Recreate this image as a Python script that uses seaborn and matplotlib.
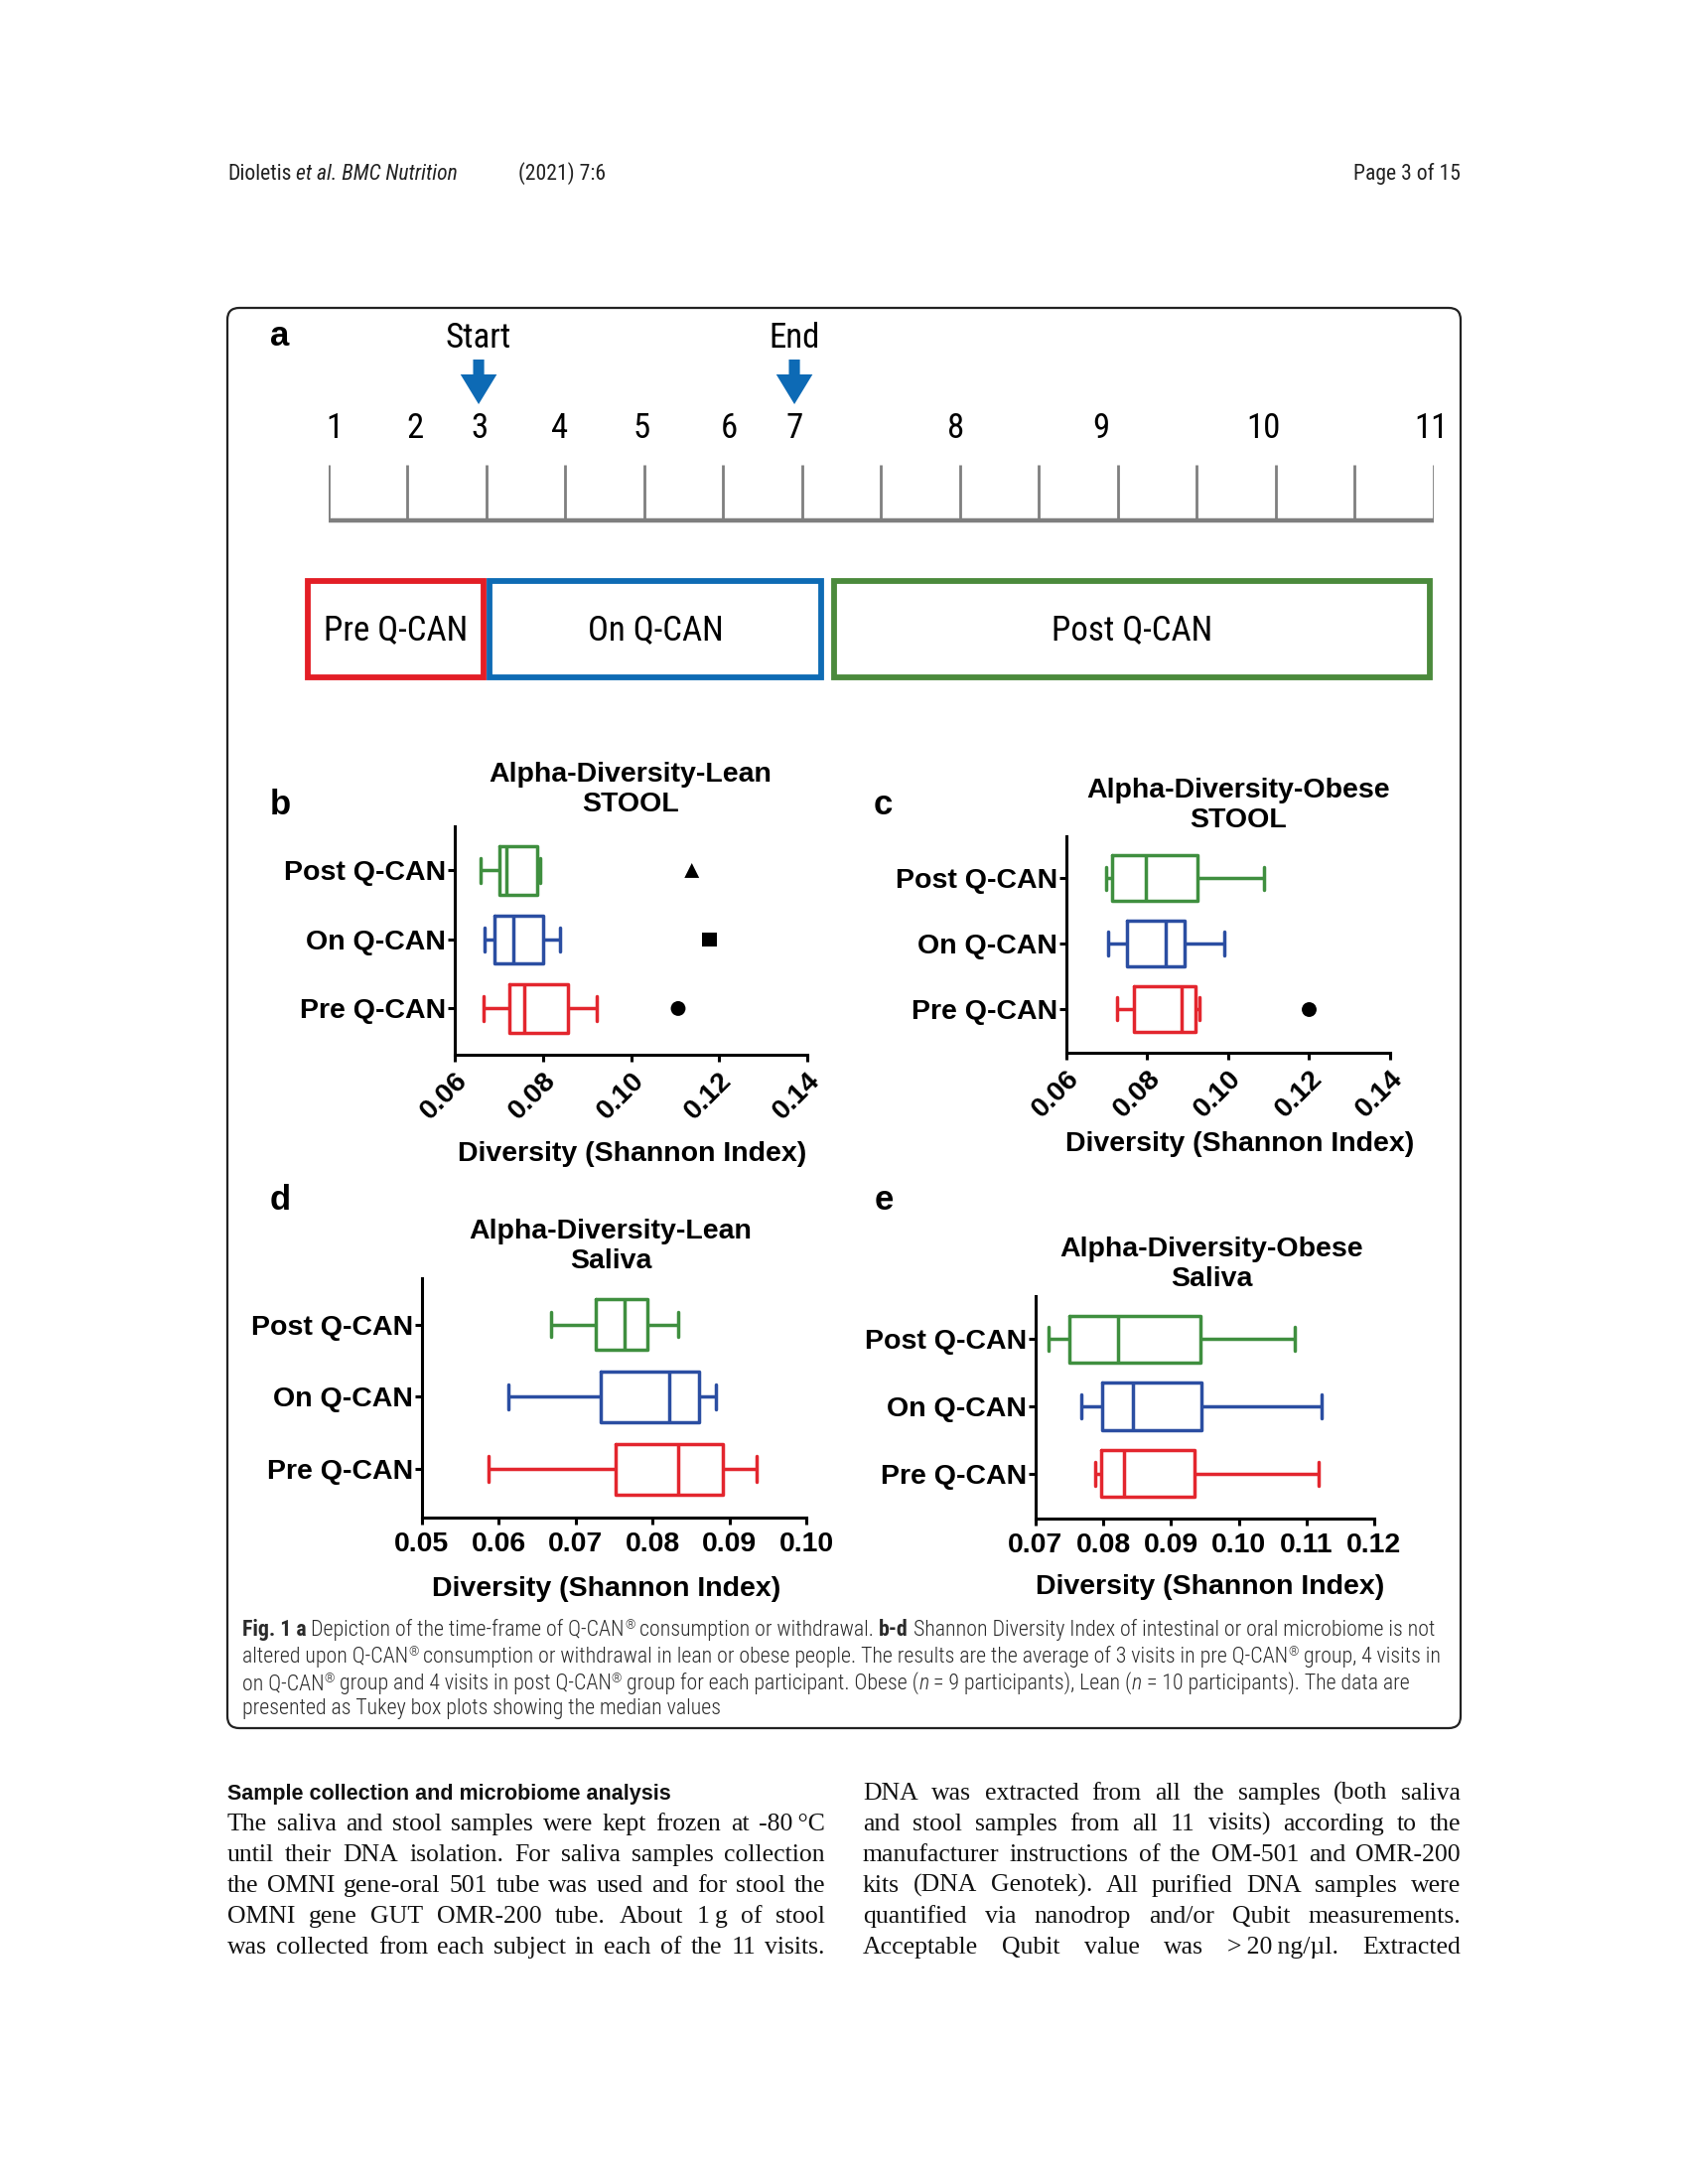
import warnings
warnings.simplefilter(action='ignore', category=FutureWarning)
warnings.simplefilter(action='ignore', category=UserWarning)

import matplotlib
matplotlib.use('Agg')
import matplotlib.pyplot as plt
from matplotlib.patches import FancyArrow, Rectangle, FancyBboxPatch
import seaborn as sns
import numpy as np
import pandas as pd

# ---------------- data ----------------
groups = ['Post Q-CAN', 'On Q-CAN', 'Pre Q-CAN']
group_colors = ['#3f8f3f', '#2b4ea2', '#e3262e']
outlier_markers = {'Post Q-CAN': '^', 'On Q-CAN': 's', 'Pre Q-CAN': 'o'}

# five numbers per box: whisker low, q1, median, q3, whisker high
lean_stool_post = [0.0659, 0.0701, 0.0718, 0.0787, 0.0793]
lean_stool_on = [0.0668, 0.0690, 0.0732, 0.0801, 0.0839]
lean_stool_pre = [0.0665, 0.0723, 0.0758, 0.0857, 0.0923]
lean_stool_out = [0.1138, 0.1178, 0.1107]
lean_stool_out_grp = ['Post Q-CAN', 'On Q-CAN', 'Pre Q-CAN']

obese_stool_post = [0.0699, 0.0714, 0.0797, 0.0923, 0.1089]
obese_stool_on = [0.0704, 0.0749, 0.0845, 0.0892, 0.0991]
obese_stool_pre = [0.0724, 0.0767, 0.0884, 0.0918, 0.0930]
obese_stool_out = [0.1200]
obese_stool_out_grp = ['Pre Q-CAN']

lean_saliva_post = [0.0668, 0.0726, 0.0764, 0.0793, 0.0833]
lean_saliva_on = [0.0613, 0.0733, 0.0822, 0.0861, 0.0883]
lean_saliva_pre = [0.0587, 0.0752, 0.0833, 0.0892, 0.0936]

obese_saliva_post = [0.0719, 0.0750, 0.0821, 0.0944, 0.1083]
obese_saliva_on = [0.0768, 0.0798, 0.0843, 0.0945, 0.1122]
obese_saliva_pre = [0.0788, 0.0797, 0.0830, 0.0934, 0.1118]

stool_ticks = [0.06, 0.08, 0.10, 0.12, 0.14]
lean_saliva_ticks = [0.05, 0.06, 0.07, 0.08, 0.09, 0.10]
obese_saliva_ticks = [0.07, 0.08, 0.09, 0.10, 0.11, 0.12]

# panel a timeline (positions in tick units)
tick_index = list(range(15))
visit_labels = [str(v) for v in range(1, 12)]
visit_label_pos = [0.08, 1.09, 1.91, 2.93, 3.96, 5.07, 5.9, 7.95, 9.79, 11.84, 13.97]
marker_labels = ['Start', 'End']
marker_pos = [1.9, 5.9]
period_labels = ['Pre Q-CAN', 'On Q-CAN', 'Post Q-CAN']
period_start = [-0.26, 2.04, 6.40]
period_end = [1.96, 6.24, 13.95]
period_colors = ['#e31e26', '#0e6bb4', '#4b8a3c']

caption_lines = [
    [('Fig. 1 a', 'b'), (' Depiction of the time-frame of Q-CAN® consumption or withdrawal. ', 'r'),
     ('b-d', 'b'), (' Shannon Diversity Index of intestinal or oral microbiome is not', 'r')],
    [('altered upon Q-CAN® consumption or withdrawal in lean or obese people. The results are the '
      'average of 3 visits in pre Q-CAN® group, 4 visits in', 'r')],
    [('on Q-CAN® group and 4 visits in post Q-CAN® group for each participant. Obese (', 'r'),
     ('n', 'i'), (' = 9 participants), Lean (', 'r'), ('n', 'i'), (' = 10 participants). The data are', 'r')],
    [('presented as Tukey box plots showing the median values', 'r')],
]

left_heading = 'Sample collection and microbiome analysis'
left_lines = [
    'The saliva and stool samples were kept frozen at -80\u2009°C',
    'until their DNA isolation. For saliva samples collection',
    'the OMNI gene-oral 501 tube was used and for stool the',
    'OMNI gene GUT OMR-200 tube. About 1\u2009g of stool',
    'was collected from each subject in each of the 11 visits.',
]
right_lines = [
    'DNA was extracted from all the samples (both saliva',
    'and stool samples from all 11 visits) according to the',
    'manufacturer instructions of the OM-501 and OMR-200',
    'kits (DNA Genotek). All purified DNA samples were',
    'quantified via nanodrop and/or Qubit measurements.',
    'Acceptable Qubit value was >\u200920\u2009ng/µl. Extracted',
]

# ---------------- setup ----------------
W, H = 1699, 2199
sns.set_theme(style='ticks', rc={'axes.edgecolor': 'black', 'xtick.color': 'black',
                                 'ytick.color': 'black', 'text.color': 'black'})
plt.rcParams['font.family'] = ['Liberation Sans', 'DejaVu Sans']
narrow = ['Liberation Sans Narrow', 'Roboto Condensed', 'Roboto', 'DejaVu Sans']
serif = ['Liberation Serif', 'DejaVu Serif']

fig = plt.figure(figsize=(W / 100, H / 100), dpi=100)
fig.patch.set_facecolor('white')


def rect(x0, y0, x1, y1):
    return [x0 / W, 1 - y1 / H, (x1 - x0) / W, (y1 - y0) / H]


page = fig.add_axes([0, 0, 1, 1])
page.set_xlim(0, W)
page.set_ylim(H, 0)
page.axis('off')
page.set_zorder(0)
renderer = fig.canvas.get_renderer()


def text_width(s, **kw):
    kw = {k: v for k, v in kw.items() if k != 'dy'}
    t = page.text(0, 0, s, **kw)
    w = t.get_window_extent(renderer).width
    t.remove()
    return w


def draw_runs(x, y, runs, draw=True):
    x_start = x
    for s, kw in runs:
        kw = dict(kw)
        dy = kw.pop('dy', 0)
        sw = text_width('a a', **kw) - text_width('aa', **kw)
        core = s.strip(' ')
        x += (len(s) - len(s.lstrip(' '))) * sw
        if core:
            if draw:
                page.text(x, y + dy, core, va='baseline', **kw)
            x += text_width(core, **kw)
        x += (len(s) - len(s.rstrip(' '))) * sw
    return x - x_start


def draw_justified(x0, x1, y, line, **kw):
    words = line.split(' ')
    widths = [text_width(w, **kw) for w in words]
    gap = (x1 - x0 - sum(widths)) / (len(words) - 1)
    x = x0
    for w, wd in zip(words, widths):
        page.text(x, y, w, va='baseline', **kw)
        x += wd + gap


# ---------------- page header and frame ----------------
hdr = dict(fontsize=13.5, family=narrow, color='#222222')
hdr['fontsize'] = 13.5 * 232 / draw_runs(0, 0, [('Dioletis ', hdr), ('et al. BMC Nutrition', dict(hdr, style='italic'))], draw=False)
draw_runs(229, 181, [('Dioletis ', hdr), ('et al. BMC Nutrition', dict(hdr, style='italic'))])
page.text(522, 181, '(2021) 7:6', va='baseline', **hdr)
page.text(1471, 181, 'Page 3 of 15', va='baseline', ha='right', **hdr)

page.add_patch(FancyBboxPatch((229, 310), 1242, 1430, boxstyle='round,pad=0,rounding_size=12',
                              fill=False, ec='#222222', lw=1.6))

# ---------------- panel a ----------------
size_a = 23 * 146 / text_width('Pre Q-CAN', fontsize=23, family=narrow)
axa = fig.add_axes(rect(331, 310, 1444, 720))
axa.set_xlim(0, 14)
axa.set_ylim(720, 310)
axa.axis('off')
axa.set_zorder(1)
axa.hlines(524, 0, 14, color='#7f7f7f', lw=3.2)
axa.vlines(tick_index, 468, 524, color='#7f7f7f', lw=2.0)
for lab, pos in zip(visit_labels, visit_label_pos):
    axa.text(pos, 431, lab, ha='center', va='center', fontsize=size_a, family=narrow)
for lab, pos in zip(marker_labels, marker_pos):
    axa.text(pos, 340, lab, ha='center', va='center', fontsize=size_a, family=narrow)
    axa.add_patch(FancyArrow(pos, 362, 0, 45, width=0.14, head_width=0.46, head_length=30,
                             length_includes_head=True, color='#0d6ab5', lw=0))
for lab, s, e, c in zip(period_labels, period_start, period_end, period_colors):
    axa.add_patch(Rectangle((s, 585), e - s, 97, fill=False, ec=c, lw=4.2, clip_on=False))
    axa.text((s + e) / 2, 635, lab, ha='center', va='center', fontsize=size_a, family=narrow)

page.text(282, 338, 'a', ha='center', va='center', fontsize=25, fontweight='bold')


# ---------------- box panels ----------------
def box_panel(bounds, post, on, pre, ticks, rotate, outliers=None, outlier_groups=None):
    ax = fig.add_axes(rect(*bounds))
    ax.set_zorder(1)
    ax.set_facecolor('none')
    df = pd.DataFrame({'group': np.repeat(groups, 5), 'value': post + on + pre})
    sns.boxplot(data=df, x='value', y='group', hue='group', order=groups, hue_order=groups,
                palette=group_colors, fill=False, width=0.7, linewidth=2.5, whis=(0, 100),
                showfliers=False, legend=False, ax=ax)
    if outliers:
        sns.scatterplot(x=outliers, y=[groups.index(g) for g in outlier_groups],
                        style=outlier_groups, markers=outlier_markers, color='black',
                        s=115, linewidth=0, legend=False, ax=ax)
    ax.set_xlim(ticks[0], ticks[-1])
    ax.set_ylim(2.67, -0.64)
    ax.set_xticks(ticks)
    ax.set_xticklabels([f'{t:.2f}' for t in ticks], fontsize=20.5, fontweight='bold')
    ax.set_yticks(range(3))
    ax.set_yticklabels(groups, fontsize=20.5, fontweight='bold')
    ax.set_xlabel('')
    ax.set_ylabel('')
    sns.despine(ax=ax)
    for sp in ['left', 'bottom']:
        ax.spines[sp].set_linewidth(2.2)
        ax.spines[sp].set_color('black')
    ax.tick_params(axis='both', length=5, width=2.2, color='black', labelcolor='black', pad=1.5)
    if rotate:
        for lab in ax.get_xticklabels():
            lab.set_rotation(45)
            lab.set_ha('right')
            lab.set_va('top')
            lab.set_rotation_mode('anchor')
        ax.tick_params(axis='x', pad=4)
    else:
        ax.tick_params(axis='x', pad=5)
    return ax


box_panel((458, 832, 813, 1062), lean_stool_post, lean_stool_on, lean_stool_pre, stool_ticks, True,
          lean_stool_out, lean_stool_out_grp)
box_panel((1074, 842, 1400, 1060), obese_stool_post, obese_stool_on, obese_stool_pre, stool_ticks, True,
          obese_stool_out, obese_stool_out_grp)
box_panel((425, 1287, 812, 1528), lean_saliva_post, lean_saliva_on, lean_saliva_pre,
          lean_saliva_ticks, False)
box_panel((1043, 1305, 1384, 1529), obese_saliva_post, obese_saliva_on, obese_saliva_pre,
          obese_saliva_ticks, False)

bold = dict(fontsize=20.5, fontweight='bold', ha='center', va='center')
page.text(635, 795, 'Alpha-Diversity-Lean\nSTOOL', linespacing=1.2, **bold)
page.text(1247, 811, 'Alpha-Diversity-Obese\nSTOOL', linespacing=1.2, **bold)
page.text(615, 1255, 'Alpha-Diversity-Lean\nSaliva', linespacing=1.2, **bold)
page.text(1220, 1273, 'Alpha-Diversity-Obese\nSaliva', linespacing=1.2, **bold)
for cx, cy in [(637, 1162), (1249, 1152), (611, 1600), (1219, 1598)]:
    page.text(cx, cy, 'Diversity (Shannon Index)', **bold)
for lab, cx, cy in [('b', 282, 810), ('c', 889, 810), ('d', 282, 1209), ('e', 890, 1209)]:
    page.text(cx, cy, lab, ha='center', va='center', fontsize=25, fontweight='bold')

# ---------------- caption ----------------
cap = {'r': dict(fontsize=15, family=narrow, color='#2a2a2a', fontweight='light')}


def caption_runs(line):
    cap['b'] = dict(cap['r'], fontweight='bold')
    cap['i'] = dict(cap['r'], style='italic')
    sup = dict(cap['r'], fontsize=cap['r']['fontsize'] * 0.6, dy=-7)
    runs = []
    for s, st in line:
        for i, part in enumerate(s.split('®')):
            if i:
                runs.append(('®', sup))
            if part:
                runs.append((part, cap[st]))
    return runs


# fit the caption size to the width of the first line
cap['r']['fontsize'] = 15 * 1203 / draw_runs(0, 0, caption_runs(caption_lines[0]), draw=False)
for line, y in zip(caption_lines, [1647, 1674, 1701, 1726]):
    draw_runs(244, y, caption_runs(line))

# ---------------- body text ----------------
body = dict(fontsize=18.5, family=serif, color='#111111')
page.text(229, 1812, left_heading, va='baseline', fontsize=15.5, fontweight='bold', color='#111111')
for line, y in zip(left_lines, [1843, 1874, 1905, 1936, 1967]):
    draw_justified(229, 831, y, line, **body)
for line, y in zip(right_lines, [1812, 1843, 1874, 1905, 1936, 1967]):
    draw_justified(869, 1471, y, line, **body)

fig.savefig('out.png', dpi=100)
